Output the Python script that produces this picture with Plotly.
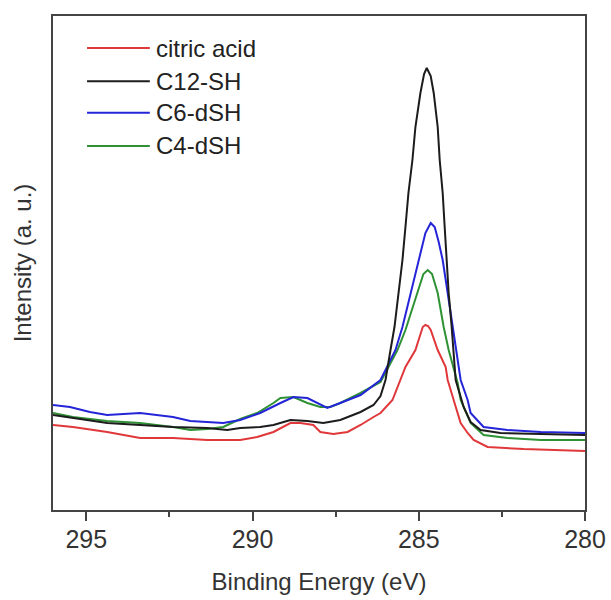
import plotly.graph_objects as go

# Binding energy (eV) / intensity (a.u.)
red_x = [296.00, 295.40, 294.37, 293.38, 292.39, 291.36, 290.37, 289.86, 289.37, 289.07, 288.86, 288.56,
         288.17, 287.96, 287.57, 287.14, 286.75, 286.36, 286.15, 285.79, 285.40, 285.10, 284.95, 284.88,
         284.80, 284.72, 284.64, 284.43, 284.19, 284.13, 283.95, 283.74, 283.53, 283.35, 282.93, 281.84, 280.00]
red_y = [85, 83, 78, 72, 72, 70, 70, 73, 78, 83, 87, 87,
         85, 78, 76, 78, 85, 93, 97, 110, 143, 160, 177, 183,
         185, 184, 180, 160, 143, 130, 110, 87, 77, 70, 63, 61, 59]

black_x = [296.00, 295.40, 294.37, 293.38, 292.39, 291.36, 290.76, 290.37, 289.77, 289.37, 289.16, 288.86,
           288.35, 287.87, 287.36, 286.75, 286.36, 286.15, 286.00, 285.94, 285.85, 285.73, 285.61, 285.49,
           285.40, 285.31, 285.19, 285.10, 284.95, 284.84, 284.76, 284.64, 284.55, 284.43, 284.37, 284.28,
           284.22, 284.16, 284.10, 284.01, 283.95, 283.89, 283.65, 283.44, 283.14, 282.54, 281.33, 280.00]
black_y = [95, 92, 87, 85, 83, 82, 80, 82, 83, 85, 87, 90,
           89, 87, 90, 98, 105, 114, 130, 143, 160, 183, 217, 250,
           283, 317, 350, 383, 417, 436, 442, 434, 417, 383, 350, 317,
           283, 250, 217, 183, 160, 130, 103, 88, 80, 77, 76, 75]

blue_x = [296.00, 295.49, 294.89, 294.37, 293.38, 292.39, 291.87, 290.88, 290.37, 289.77, 289.16, 288.77,
          288.35, 287.96, 287.75, 287.36, 286.75, 286.15, 286.00, 285.70, 285.49, 285.25, 285.01, 284.80,
          284.64, 284.52, 284.40, 284.28, 284.13, 283.98, 283.86, 283.74, 283.53, 283.44, 283.05, 282.33,
          281.33, 280.00]
blue_y = [105, 103, 98, 95, 97, 93, 89, 87, 90, 97, 107, 113,
          112, 105, 102, 107, 115, 130, 140, 160, 183, 215, 250, 277,
          287, 283, 268, 250, 217, 183, 160, 130, 110, 97, 83, 80,
          78, 77]

green_x = [296.00, 295.40, 294.37, 293.38, 292.39, 291.87, 291.36, 290.88, 290.37, 289.86, 289.37, 289.16,
           288.77, 288.35, 287.96, 287.66, 287.36, 286.75, 286.15, 285.91, 285.64, 285.40, 285.04, 284.86,
           284.73, 284.60, 284.43, 284.25, 284.10, 283.83, 283.74, 283.53, 283.44, 283.05, 282.33, 281.33,
           280.00]
green_y = [97, 93, 89, 87, 83, 80, 81, 83, 91, 97, 107, 112,
           113, 107, 103, 103, 107, 117, 128, 143, 160, 180, 217, 236,
           240, 236, 217, 183, 160, 127, 110, 93, 87, 75, 72, 70,
           70]

names = ["citric acid", "C12-SH", "C6-dSH", "C4-dSH"]
colors = ["#e0383a", "#1c1c1c", "#2424d8", "#2e9234"]
xs = [red_x, black_x, blue_x, green_x]
ys = [red_y, black_y, blue_y, green_y]

x_ticks = [295, 290, 285, 280]
x_minor = [292.5, 287.5, 282.5]

FONT = "Liberation Sans, Arial, sans-serif"

fig = go.Figure()
for i in [0, 3, 2, 1]:
    fig.add_trace(go.Scatter(x=xs[i], y=ys[i], mode="lines", name=names[i],
                             line=dict(color=colors[i], width=2), showlegend=False))

# manual legend
leg_y = [0.935, 0.868, 0.804, 0.737]
for i, n in enumerate(names):
    fig.add_shape(type="line", xref="paper", yref="paper", x0=0.064, x1=0.182, y0=leg_y[i], y1=leg_y[i],
                  line=dict(color=colors[i], width=2))
    fig.add_annotation(xref="paper", yref="paper", x=0.19, y=leg_y[i], text=n, showarrow=False,
                       xanchor="left", yanchor="middle", font=dict(size=24, color="#222", family=FONT))

fig.update_layout(
    width=611, height=600,
    margin=dict(l=53, r=26, t=16, b=90, autoexpand=False),
    plot_bgcolor="white", paper_bgcolor="white",
    font=dict(family=FONT, size=24, color="#333"),
    xaxis=dict(range=[296, 280], autorange=False, automargin=False,
               showline=True, mirror=True, linecolor="#444", linewidth=2,
               tickmode="array", tickvals=x_ticks, ticktext=[str(t) for t in x_ticks],
               ticks="outside", ticklen=9, tickwidth=2, tickcolor="#444",
               ticklabelstandoff=-3,
               minor=dict(tickvals=x_minor, ticks="outside", ticklen=5, tickwidth=2,
                          tickcolor="#444", showgrid=False),
               showgrid=False, zeroline=False,
               tickfont=dict(size=25, color="#333"),
               title=dict(text="Binding Energy (eV)", font=dict(size=24, color="#333"), standoff=21)),
    yaxis=dict(range=[0, 494], autorange=False, automargin=False,
               showline=True, mirror=True, linecolor="#444", linewidth=2,
               showticklabels=False, ticks="", showgrid=False, zeroline=False,
               title=dict(text="Intensity (a. u.)", font=dict(size=24, color="#333"), standoff=13)),
)

fig.write_html("out.html",
               config={"displayModeBar": False},
               post_script="document.body.style.margin='0';document.body.style.overflow='hidden';")
